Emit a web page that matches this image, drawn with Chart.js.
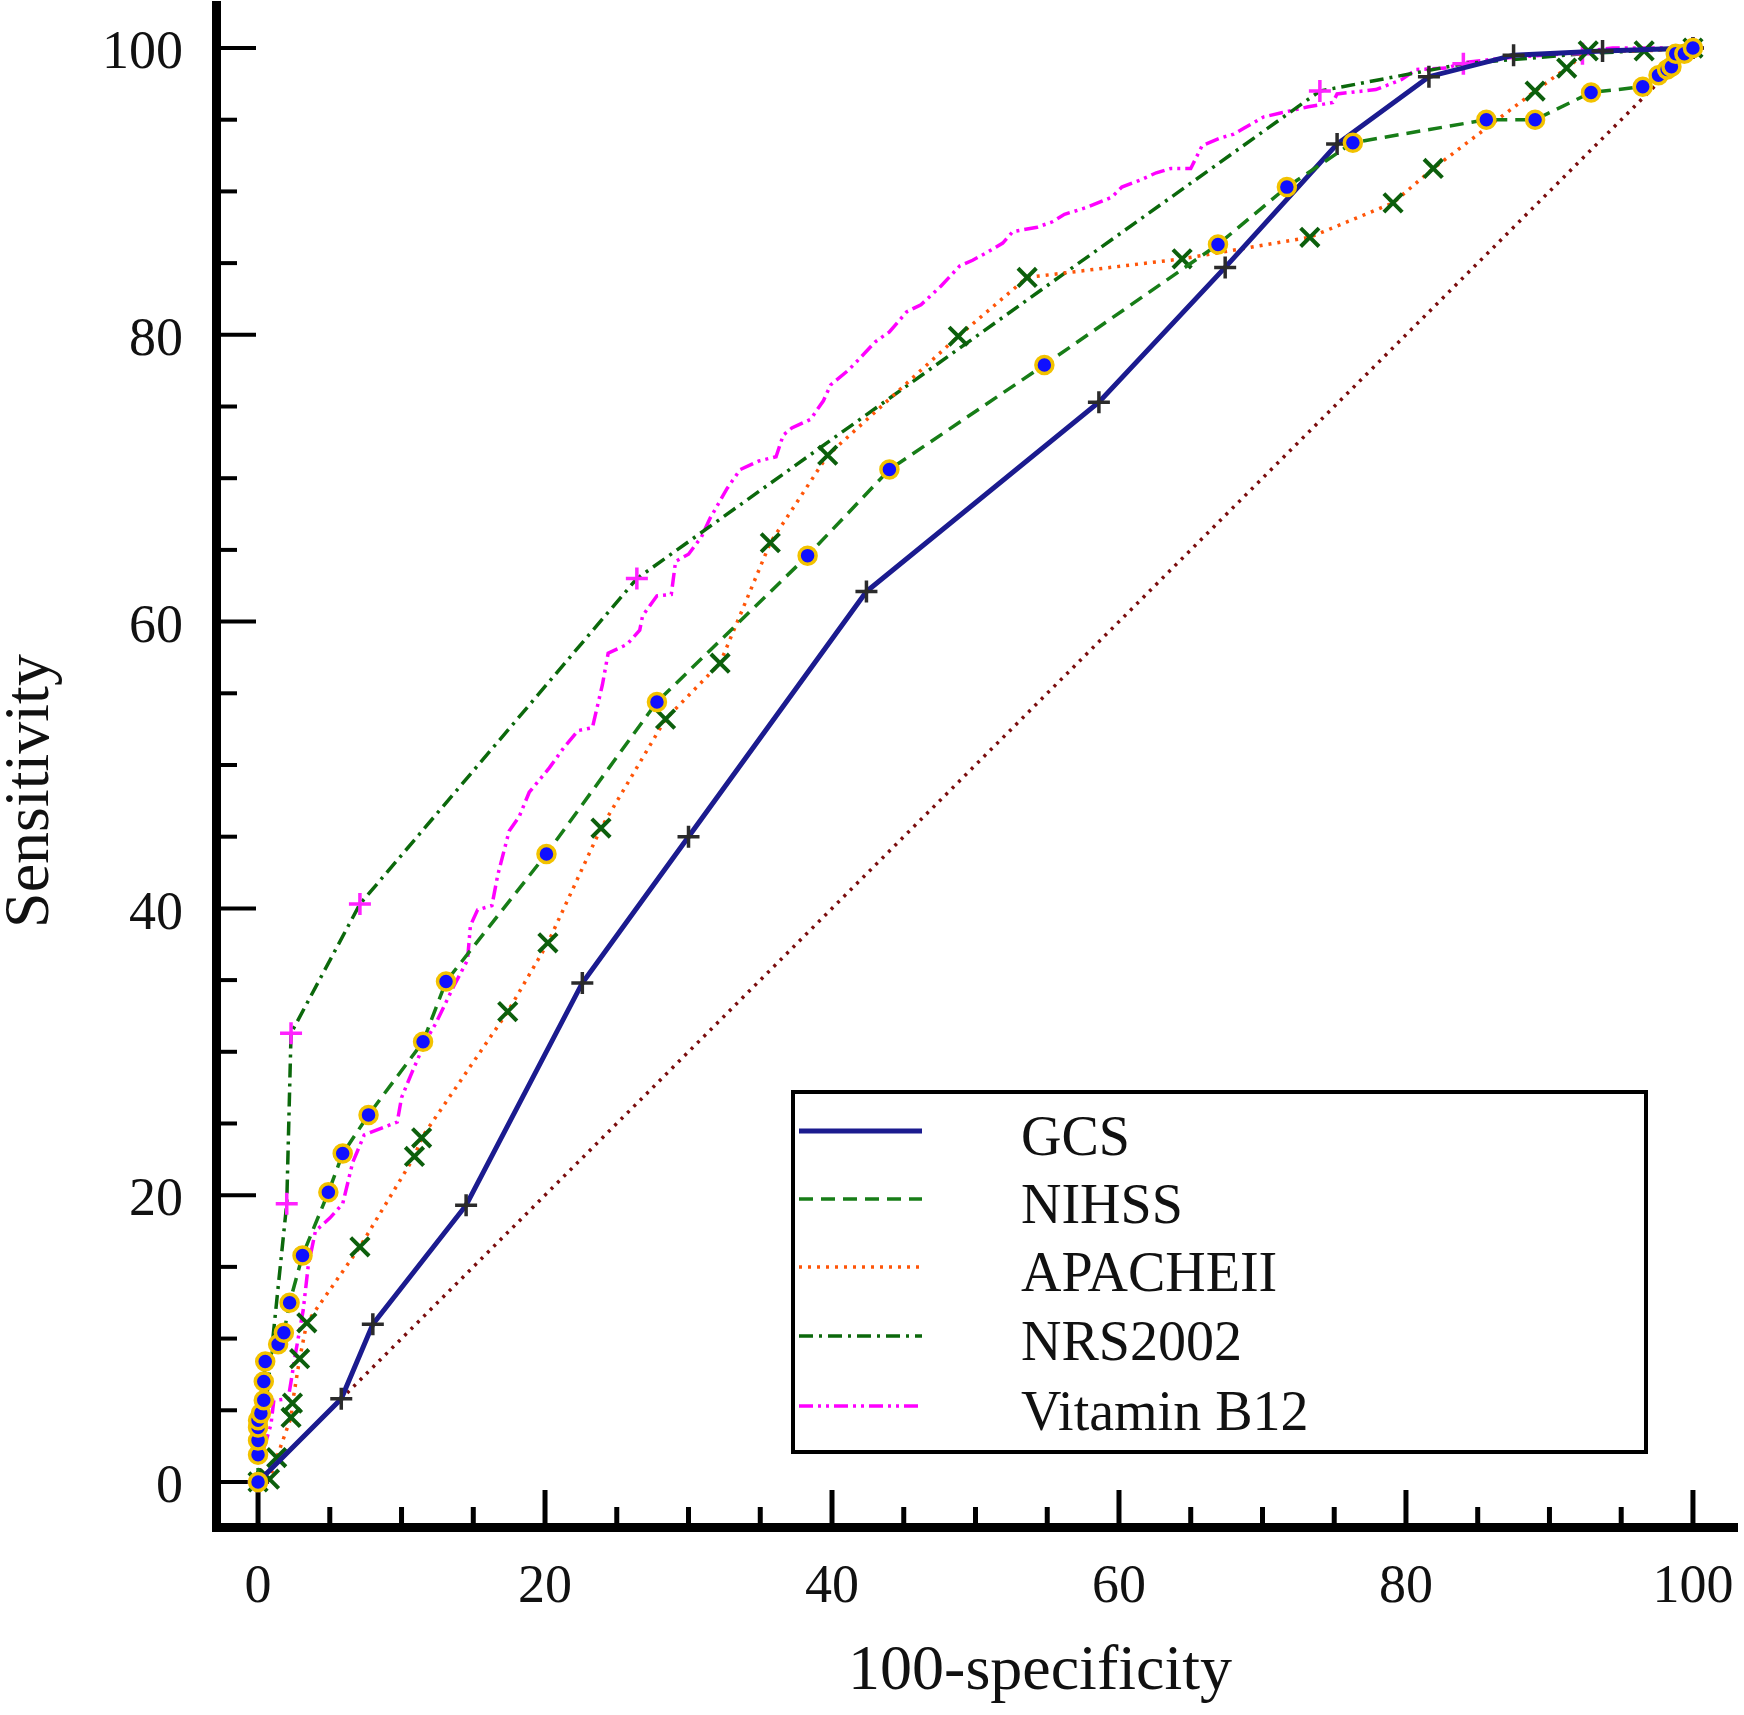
<!DOCTYPE html>
<html><head><meta charset="utf-8">
<script src="https://cdn.jsdelivr.net/npm/chart.js@4.4.1/dist/chart.umd.min.js"></script>
<style>html,body{margin:0;padding:0;background:#fff}canvas{display:block}</style>
</head><body>
<canvas id="c" width="1744" height="1715"></canvas>
<script>
// ---------------- data ----------------
const seriesNames = ['GCS', 'NIHSS', 'APACHEII', 'NRS2002', 'Vitamin B12'];
const xTitle = '100-specificity';
const yTitle = 'Sensitivity';
const xTickVals = [0, 20, 40, 60, 80, 100];
const yTickVals = [0, 20, 40, 60, 80, 100];
const minorTickVals = [0,5,10,15,20,25,30,35,40,45,50,55,60,65,70,75,80,85,90,95,100];

const gcsX = [0, 5.8, 8.0, 14.5, 22.6, 30.0, 42.4, 58.6, 67.4, 75.2, 81.6, 87.5, 93.7, 100];
const gcsY = [0, 5.8, 11.0, 19.3, 34.8, 45.0, 62.1, 75.3, 84.7, 93.3, 98.0, 99.5, 99.8, 100];

const nihssX = [0, 0, 0, 0, 0, 0.2, 0.4, 0.4, 0.5, 1.4, 1.8, 2.2, 3.1, 4.9, 5.9, 7.7, 11.5, 13.1, 20.1, 27.8, 38.3, 44.0, 54.8, 66.9, 71.7, 76.3, 85.6, 89.0, 92.9, 96.5, 97.6, 98.2, 98.5, 98.8, 99.4, 100];
const nihssY = [0, 1.9, 2.9, 3.8, 4.3, 4.8, 5.7, 7.0, 8.4, 9.6, 10.4, 12.5, 15.8, 20.2, 22.9, 25.6, 30.7, 34.9, 43.8, 54.4, 64.6, 70.6, 77.9, 86.3, 90.3, 93.4, 95.0, 95.0, 96.9, 97.3, 98.1, 98.5, 98.7, 99.6, 99.6, 100];

const apacheX = [0, 0.8, 1.3, 2.3, 2.4, 2.9, 3.4, 7.1, 10.9, 11.4, 17.4, 20.2, 23.9, 28.4, 32.2, 35.7, 39.7, 48.8, 53.6, 64.4, 73.3, 79.1, 81.9, 89.0, 91.2, 92.7, 96.6, 100];
const apacheY = [0, 0.2, 1.7, 4.5, 5.5, 8.6, 11.1, 16.4, 22.7, 24.0, 32.8, 37.6, 45.6, 53.2, 57.1, 65.5, 71.6, 79.9, 84.0, 85.3, 86.8, 89.2, 91.6, 97.0, 98.6, 99.8, 99.8, 100];

const nrsX = [0, 2.0, 2.3, 7.1, 26.4, 74.0, 84.0, 92.3, 100];
const nrsY = [0, 19.4, 31.3, 40.3, 63.0, 97.0, 98.9, 99.6, 100];

const b12X = [0,0.3,0.9,1.1,2.1,2.3,2.6,3.15,3.5,4.0,5.0,5.9,6.6,7.4,9.7,10.0,10.7,11.7,12.4,13.6,14.6,14.8,15.3,16.3,16.7,17.5,18.2,18.9,20.3,21.3,22.3,23.3,24.0,24.4,25.7,26.6,26.8,27.8,28.8,29.1,30.0,30.9,31.5,32.7,33.6,34.9,36.1,36.6,37.2,38.5,39.4,39.9,41.1,41.6,43.0,44.0,45.2,46.2,47.6,48.9,49.8,50.9,51.9,52.6,54.3,55.4,56.2,57.8,59.5,60.2,61.5,62.6,63.6,65.0,65.8,67.0,68.0,68.7,70.1,71.4,73.2,74.9,75.2,77.9,79.7,80.7,82.8,84.1,86.9,91.0,94.4,100];
const b12Y = [0,2.0,4.0,5.7,5.8,7.0,8.9,12.0,15.1,17.5,18.4,19.4,22.3,24.2,25.1,26.8,28.5,30.8,32.0,34.5,36.4,38.8,39.9,40.2,42.3,45.4,46.4,48.1,49.8,51.2,52.4,52.6,55.6,57.8,58.4,59.4,60.4,61.8,61.9,64.2,64.7,65.9,67.2,69.3,70.6,71.2,71.5,73.0,73.5,74.1,75.4,76.5,77.5,78.0,79.5,80.2,81.6,82.1,83.4,84.8,85.2,85.8,86.4,87.2,87.5,87.9,88.4,88.9,89.6,90.3,90.8,91.3,91.6,91.6,93.2,93.7,94.0,94.4,95.2,95.5,95.9,96.2,96.8,97.1,97.8,98.5,98.6,99.0,99.3,99.6,100,100];

const diagX = [0, 100];
const diagY = [0, 100];

// ---------------- build ----------------
const pts = (xs, ys) => xs.map((v, i) => ({x: v, y: ys[i]}));
const FONT = "'Liberation Serif', 'Times New Roman', serif";

const datasets = [
  { label: seriesNames[1], data: pts(nihssX, nihssY), borderColor: '#177d17', borderWidth: 3.5, borderDash: [14, 8],
    pointStyle: 'circle', pointRadius: 8.5, pointBorderWidth: 3.5, pointBackgroundColor: '#1010ff', pointBorderColor: '#f2c200' },
  { label: seriesNames[0], data: pts(gcsX, gcsY), borderColor: '#1b1b8f', borderWidth: 5, borderDash: [],
    pointStyle: 'cross', pointRadius: 11, pointBorderWidth: 3.5, pointBorderColor: '#2b2b2b', pointBackgroundColor: '#2b2b2b' },
  { label: seriesNames[2], data: pts(apacheX, apacheY), borderColor: '#ff5508', borderWidth: 3.5, borderDash: [3, 6],
    pointStyle: 'crossRot', pointRadius: 13, pointBorderWidth: 4, pointBorderColor: '#0c5f0c', pointBackgroundColor: '#0c5f0c' },
  { label: seriesNames[3], data: pts(nrsX, nrsY), borderColor: '#0b680b', borderWidth: 3.5, borderDash: [14, 6, 3, 6],
    pointStyle: 'cross', pointRadius: 11, pointBorderWidth: 3.5, pointBorderColor: '#ff22ff', pointBackgroundColor: '#ff22ff' },
  { label: seriesNames[4], data: pts(b12X, b12Y), borderColor: '#ff00ff', borderWidth: 3.5, borderDash: [14, 5, 3, 5, 3, 5],
    pointRadius: 0 },
  { label: 'ref', data: pts(diagX, diagY), borderColor: '#7a0c0c', borderWidth: 3.5, borderDash: [3, 6], pointRadius: 0 }
];

const legendOrder = [1, 0, 2, 3, 4]; // dataset indices in legend order

const zeroPad = s => { s.paddingTop = 0; s.paddingBottom = 0; s.paddingLeft = 0; s.paddingRight = 0; };

const decor = {
  id: 'decor',
  beforeDatasetsDraw(chart) {
    const {ctx, scales: {x, y}, chartArea: a} = chart;
    ctx.save();
    ctx.strokeStyle = '#000';
    ctx.lineCap = 'butt';
    ctx.lineWidth = 5;
    minorTickVals.forEach(v => {
      const px = x.getPixelForValue(v);
      const len = xTickVals.includes(v) ? 37 : 20;
      ctx.beginPath(); ctx.moveTo(px, a.bottom); ctx.lineTo(px, a.bottom - len); ctx.stroke();
    });
    ctx.lineWidth = 4;
    minorTickVals.forEach(v => {
      const py = y.getPixelForValue(v);
      const len = yTickVals.includes(v) ? 40 : 21;
      ctx.beginPath(); ctx.moveTo(a.left, py); ctx.lineTo(a.left + len, py); ctx.stroke();
    });
    ctx.restore();
  },
  afterDatasetsDraw(chart) {
    const ctx = chart.ctx;
    ctx.save();
    // legend box
    const L = 793, T = 1092, R = 1646, B = 1452;
    ctx.fillStyle = '#fff';
    ctx.fillRect(L, T, R - L, B - T);
    ctx.strokeStyle = '#000';
    ctx.lineWidth = 4;
    ctx.strokeRect(L, T, R - L, B - T);
    const rows = [1131, 1199, 1267, 1336, 1406];
    ctx.font = '56px ' + FONT;
    ctx.textBaseline = 'middle';
    ctx.textAlign = 'left';
    legendOrder.forEach((di, k) => {
      const ds = chart.data.datasets[di];
      ctx.save();
      ctx.strokeStyle = ds.borderColor;
      ctx.lineWidth = ds.borderWidth;
      ctx.setLineDash(ds.borderDash || []);
      ctx.beginPath(); ctx.moveTo(799, rows[k]); ctx.lineTo(922, rows[k]); ctx.stroke();
      ctx.restore();
      ctx.fillStyle = '#111';
      ctx.fillText(ds.label, 1021, rows[k] + 9);
    });
    // axis titles
    ctx.fillStyle = '#111';
    ctx.font = '64px ' + FONT;
    ctx.textAlign = 'center';
    ctx.textBaseline = 'middle';
    ctx.fillText(xTitle, 1040, 1672);
    ctx.translate(31, 791);
    ctx.rotate(-Math.PI / 2);
    ctx.fillText(yTitle, 0, 0);
    ctx.restore();
  }
};

new Chart(document.getElementById('c'), {
  type: 'scatter',
  data: { datasets: datasets.map(d => Object.assign({showLine: true, tension: 0, fill: false, clip: false}, d)) },
  options: {
    responsive: false,
    animation: false,
    devicePixelRatio: 1,
    layout: { autoPadding: false, padding: { top: 5, right: 7, left: 0, bottom: 0 } },
    plugins: { legend: { display: false }, tooltip: { enabled: false } },
    scales: {
      x: {
        type: 'linear', position: 'bottom', min: -2.93, max: 103.07,
        afterFit: s => { s.height = 188; zeroPad(s); },
        afterBuildTicks: s => { s.ticks = xTickVals.map(v => ({value: v})); },
        grid: { display: false, drawTicks: false },
        border: { display: true, width: 9, color: '#000' },
        ticks: { font: { family: FONT, size: 54 }, color: '#111', padding: 28, maxRotation: 0, autoSkip: false }
      },
      y: {
        type: 'linear', position: 'left', min: -3.14, max: 103.0,
        afterFit: s => { s.width = 216; zeroPad(s); },
        afterBuildTicks: s => { s.ticks = yTickVals.map(v => ({value: v})); },
        grid: { display: false, drawTicks: false },
        border: { display: true, width: 9, color: '#000' },
        ticks: { font: { family: FONT, size: 54 }, color: '#111', padding: 33, labelOffset: 6, autoSkip: false }
      }
    }
  },
  plugins: [decor]
});
</script>
</body></html>
